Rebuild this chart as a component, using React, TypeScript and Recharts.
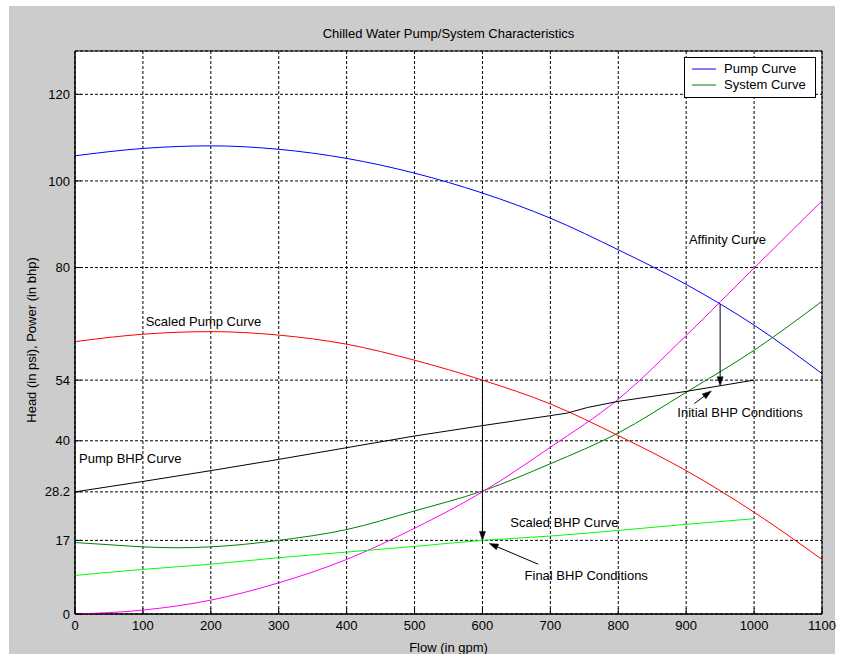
import React from "react";
import {
  LineChart,
  Line,
  XAxis,
  YAxis,
  CartesianGrid,
  ReferenceArea,
  ReferenceLine,
  ReferenceDot,
  Legend,
  Label,
} from "recharts";

// flow values (gpm)
const flowFull = [0, 100, 200, 300, 400, 500, 600, 700, 800, 900, 1000, 1100];
const flowSystem = [0, 50, 100, 150, 200, 250, 300, 400, 500, 600, 700, 800, 900, 1000, 1100];
const flowToThousand = [0, 100, 200, 300, 400, 500, 600, 700, 800, 900, 1000];
const flowPumpBhp = [0, 100, 200, 300, 400, 500, 600, 700, 725, 755, 800, 900, 1000];

// series values
const pumpHead = [105.8, 107.5, 108.1, 107.3, 105.2, 101.8, 97.2, 91.4, 84.1, 76.1, 66.7, 55.5];
const systemHead = [16.5, 16.0, 15.5, 15.3, 15.5, 16.1, 17.0, 19.5, 23.8, 28.4, 34.7, 41.8, 51.2, 60.9, 72.2];
const scaledPumpHead = [62.9, 64.6, 65.2, 64.4, 62.3, 58.6, 54.0, 48.5, 41.2, 33.1, 23.5, 12.6];
const affinityHead = [0, 0.9, 3.2, 7.2, 12.6, 19.8, 28.2, 38.5, 49.6, 64.3, 79.9, 95.4];
const pumpBhp = [28.2, 30.6, 33.1, 35.7, 38.4, 41.1, 43.5, 45.8, 46.4, 47.7, 49.1, 51.4, 54.0];
const scaledBhp = [8.9, 10.3, 11.5, 13.0, 14.3, 15.6, 17.0, 18.0, 19.3, 20.7, 22.0];

// axis ticks
const xTicks = [0, 100, 200, 300, 400, 500, 600, 700, 800, 900, 1000, 1100];
const yTicks = [0, 17, 28.2, 40, 54, 80, 100, 120];

// annotations (data coordinates)
const notes = [
  { text: "Affinity Curve", x: 904, y: 86.5 },
  { text: "Scaled Pump Curve", x: 104, y: 67.5 },
  { text: "Pump BHP Curve", x: 6, y: 35.8 },
  { text: "Scaled BHP Curve", x: 641, y: 21.2 },
  { text: "Initial BHP Conditions", x: 887, y: 46.5 },
  { text: "Final BHP Conditions", x: 662, y: 9.0 },
];

const arrows = [
  { from: { x: 600, y: 54 }, to: { x: 600, y: 17 } },
  { from: { x: 950, y: 71.6 }, to: { x: 950, y: 52.7 } },
  { from: { x: 912, y: 48.6 }, to: { x: 937, y: 51.5 } },
  { from: { x: 682, y: 11.5 }, to: { x: 610, y: 16.3 } },
];

const toPoints = (xs: number[], ys: number[]) => xs.map((x, i) => ({ x, y: ys[i] }));

const FONT = '"Liberation Sans", Arial, sans-serif';

function ArrowShape(props: any) {
  const { x1, y1, x2, y2 } = props;
  if ([x1, y1, x2, y2].some((v) => typeof v !== "number")) return null;
  const dx = x2 - x1;
  const dy = y2 - y1;
  const len = Math.sqrt(dx * dx + dy * dy) || 1;
  const ux = dx / len;
  const uy = dy / len;
  const hl = 9;
  const hw = 3;
  const bx = x2 - ux * hl;
  const by = y2 - uy * hl;
  const pts = `${x2},${y2} ${bx - uy * hw},${by + ux * hw} ${bx + uy * hw},${by - ux * hw}`;
  return (
    <g>
      <line x1={x1} y1={y1} x2={bx} y2={by} stroke="#000" strokeWidth={1} />
      <polygon points={pts} fill="#000" stroke="#000" strokeWidth={0.5} />
    </g>
  );
}

function NoteShape(text: string) {
  return (props: any) => (
    <text
      x={props.cx}
      y={props.cy}
      dominantBaseline="central"
      fontSize={13}
      fontFamily={FONT}
      fill="#000"
    >
      {text}
    </text>
  );
}

const NoTick = () => <g />;

function LegendBox(props: any) {
  const items = (props.payload || []).filter((p: any) => p.type !== "none");
  return (
    <div
      style={{
        background: "#fff",
        border: "1px solid #000",
        padding: "3px 0 4px 0",
        fontFamily: FONT,
        fontSize: 13,
        lineHeight: "16px",
      }}
    >
      {items.map((p: any) => (
        <div key={p.value} style={{ display: "flex", alignItems: "center" }}>
          <svg width={39} height={16} style={{ flex: "none" }}>
            <line x1={7} y1={8} x2={31} y2={8} stroke={p.color} strokeWidth={1} />
          </svg>
          <span>{p.value}</span>
        </div>
      ))}
    </div>
  );
}

export default function App() {
  return (
    <div
      style={{
        position: "absolute",
        left: 9,
        top: 6,
        width: 826,
        height: 648,
        background: "#cccccc",
        fontFamily: FONT,
      }}
    >
      <div
        style={{
          position: "absolute",
          left: 0,
          width: 879,
          top: 20,
          textAlign: "center",
          fontSize: 13,
          color: "#000",
        }}
      >
        Chilled Water Pump/System Characteristics
      </div>
      <LineChart
        width={832}
        height={648}
        margin={{ top: 45, right: 19, left: 0, bottom: 0 }}
      >
        <CartesianGrid
          fill="#fff"
          stroke="#000"
          strokeDasharray="3 2"
          strokeWidth={1}
        />
        <XAxis
          type="number"
          dataKey="x"
          domain={[0, 1100]}
          ticks={xTicks}
          height={40}
          axisLine={{ stroke: "#000" }}
          tickLine={{ stroke: "#000" }}
          tickSize={-6}
          tickMargin={13}
          tick={{ fill: "#000", fontSize: 13, fontFamily: FONT }}
          allowDataOverflow
        >
          <Label
            value="Flow (in gpm)"
            position="insideBottom"
            offset={2}
            style={{ fill: "#000", fontSize: 13, fontFamily: FONT }}
          />
        </XAxis>
        <XAxis
          xAxisId="top"
          orientation="top"
          type="number"
          domain={[0, 1100]}
          ticks={xTicks}
          height={0}
          axisLine={{ stroke: "#000" }}
          tickLine={{ stroke: "#000" }}
          tickSize={-6}
          tick={NoTick}
          allowDataOverflow
        />
        <YAxis
          type="number"
          domain={[0, 130]}
          ticks={yTicks}
          width={66}
          axisLine={{ stroke: "#000" }}
          tickLine={{ stroke: "#000" }}
          tickSize={-6}
          tickMargin={11}
          tick={{ fill: "#000", fontSize: 13, fontFamily: FONT }}
          allowDataOverflow
        >
          <Label
            content={() => (
              <text
                x={22}
                y={334}
                transform="rotate(-90 22 334)"
                textAnchor="middle"
                dominantBaseline="central"
                fontSize={13}
                fontFamily={FONT}
                fill="#000"
              >
                Head (in psi), Power (in bhp)
              </text>
            )}
          />
        </YAxis>
        <YAxis
          yAxisId="right"
          orientation="right"
          type="number"
          domain={[0, 130]}
          ticks={yTicks}
          width={0}
          axisLine={{ stroke: "#000" }}
          tickLine={{ stroke: "#000" }}
          tickSize={-6}
          tick={NoTick}
          allowDataOverflow
        />
        <ReferenceArea x1={0} x2={1100} y1={0} y2={130} fill="none" stroke="#000" strokeWidth={1} />

        <Line
          data={toPoints(flowFull, pumpHead)}
          dataKey="y"
          name="Pump Curve"
          type="monotone"
          stroke="#0000ff"
          strokeWidth={1}
          dot={false}
          isAnimationActive={false}
        />
        <Line
          data={toPoints(flowSystem, systemHead)}
          dataKey="y"
          name="System Curve"
          type="monotone"
          stroke="#008000"
          strokeWidth={1}
          dot={false}
          isAnimationActive={false}
        />
        <Line
          data={toPoints(flowFull, scaledPumpHead)}
          dataKey="y"
          name="Scaled Pump Curve"
          type="monotone"
          stroke="#ff0000"
          strokeWidth={1}
          dot={false}
          legendType="none"
          isAnimationActive={false}
        />
        <Line
          data={toPoints(flowFull, affinityHead)}
          dataKey="y"
          name="Affinity Curve"
          type="monotone"
          stroke="#ff00ff"
          strokeWidth={1}
          dot={false}
          legendType="none"
          isAnimationActive={false}
        />
        <Line
          data={toPoints(flowPumpBhp, pumpBhp)}
          dataKey="y"
          name="Pump BHP Curve"
          type="linear"
          stroke="#000000"
          strokeWidth={1}
          dot={false}
          legendType="none"
          isAnimationActive={false}
        />
        <Line
          data={toPoints(flowToThousand, scaledBhp)}
          dataKey="y"
          name="Scaled BHP Curve"
          type="monotone"
          stroke="#00ff00"
          strokeWidth={1}
          dot={false}
          legendType="none"
          isAnimationActive={false}
        />

        {arrows.map((a, i) => (
          <ReferenceLine
            key={"arrow" + i}
            segment={[a.from, a.to]}
            stroke="#000"
            shape={ArrowShape}
          />
        ))}
        {notes.map((n) => (
          <ReferenceDot key={n.text} x={n.x} y={n.y} r={0} shape={NoteShape(n.text)} />
        ))}

        <Legend
          layout="horizontal"
          verticalAlign="middle"
          align="center"
          content={LegendBox}
          wrapperStyle={{ left: 675, top: 51, width: 132 }}
        />
      </LineChart>
    </div>
  );
}
